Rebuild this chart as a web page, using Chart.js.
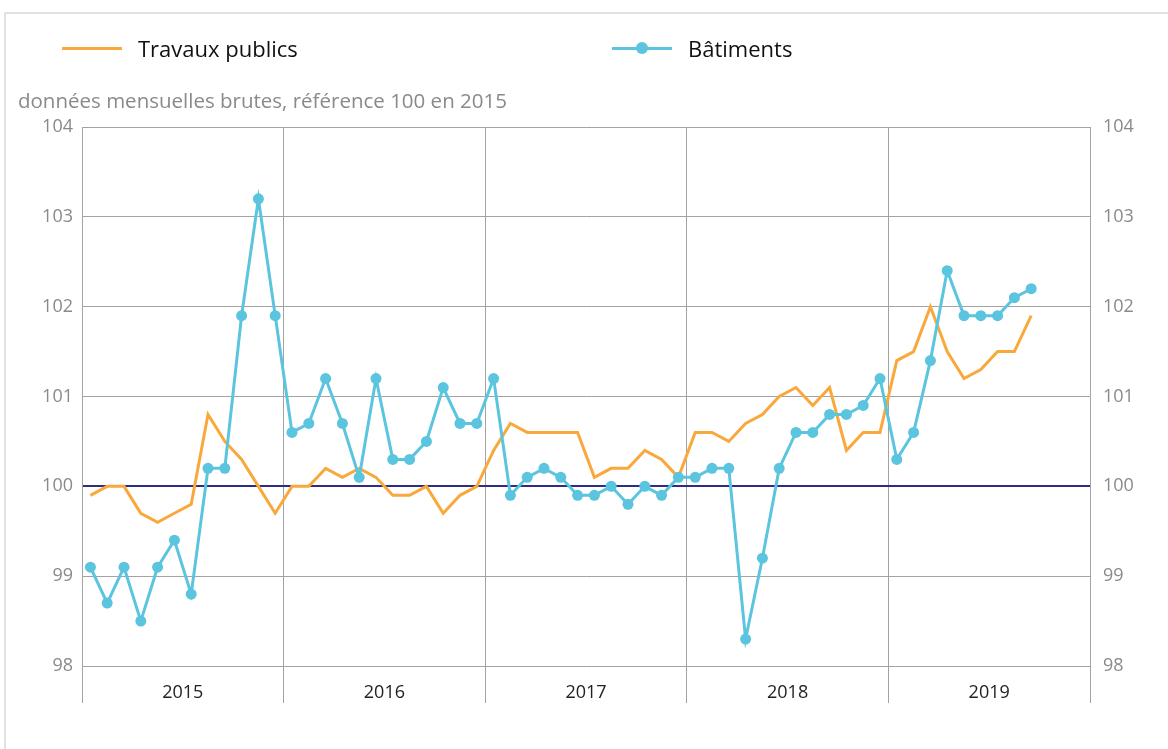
<!DOCTYPE html>
<html><head><meta charset="utf-8">
<script src="https://cdn.jsdelivr.net/npm/chart.js@4/dist/chart.umd.min.js"></script>
<style>
html,body{margin:0;padding:0;background:#fff;}
#wrap{position:relative;width:1168px;height:749px;overflow:hidden;font-family:"Open Sans",sans-serif;}
#frame{position:absolute;left:4px;top:12px;width:1200px;height:800px;border-top:2px solid #e2e2e2;border-left:2px solid #e2e2e2;}
#c{position:absolute;left:0;top:0;}
.leg{position:absolute;top:34px;height:28px;line-height:28px;font-size:22px;color:#111;display:flex;align-items:center;white-space:nowrap;}
.sw{position:relative;width:60px;height:28px;margin-right:16px;}
.sw .ln{position:absolute;left:0;top:12.5px;width:60px;height:3px;}
.sw .dt{position:absolute;left:24px;top:8px;width:12px;height:12px;border-radius:50%;}
#sub{position:absolute;left:18px;top:86px;font-size:20.5px;line-height:28px;color:#8a8a8a;white-space:nowrap;}
</style>
</head><body>
<div id="wrap">
<div id="frame"></div>
<canvas id="c" width="1168" height="749"></canvas>
<div class="leg" style="left:62px"><div class="sw"><div class="ln" style="background:#f9a93b"></div></div>Travaux publics</div>
<div class="leg" style="left:612px"><div class="sw"><div class="ln" style="background:#5bc4df"></div><div class="dt" style="background:#5bc4df"></div></div>Bâtiments</div>
<div id="sub">données mensuelles brutes, référence 100 en 2015</div>
</div>
<script>
const years = ['2015', '2016', '2017', '2018', '2019'];
const monthCodes = ['01','02','03','04','05','06','07','08','09','10','11','12'];
const months = [];
years.forEach(y => monthCodes.forEach(m => months.push(y + '-' + m)));

const travauxPublics = [
  99.9, 100.0, 100.0, 99.7, 99.6, 99.7, 99.8, 100.8, 100.5, 100.3, 100.0, 99.7,
  100.0, 100.0, 100.2, 100.1, 100.2, 100.1, 99.9, 99.9, 100.0, 99.7, 99.9, 100.0,
  100.4, 100.7, 100.6, 100.6, 100.6, 100.6, 100.1, 100.2, 100.2, 100.4, 100.3, 100.1,
  100.6, 100.6, 100.5, 100.7, 100.8, 101.0, 101.1, 100.9, 101.1, 100.4, 100.6, 100.6,
  101.4, 101.5, 102.0, 101.5, 101.2, 101.3, 101.5, 101.5, 101.9
];
const batiments = [
  99.1, 98.7, 99.1, 98.5, 99.1, 99.4, 98.8, 100.2, 100.2, 101.9, 103.2, 101.9,
  100.6, 100.7, 101.2, 100.7, 100.1, 101.2, 100.3, 100.3, 100.5, 101.1, 100.7, 100.7,
  101.2, 99.9, 100.1, 100.2, 100.1, 99.9, 99.9, 100.0, 99.8, 100.0, 99.9, 100.1,
  100.1, 100.2, 100.2, 98.3, 99.2, 100.2, 100.6, 100.6, 100.8, 100.8, 100.9, 101.2,
  100.3, 100.6, 101.4, 102.4, 101.9, 101.9, 101.9, 102.1, 102.2
];
const yMin = 98, yMax = 104, yStep = 1, refValue = 100;

const gridGray = '#a3a3a3';
const tickGray = '#8a8a8a';

new Chart(document.getElementById('c'), {
  type: 'line',
  data: {
    labels: months,
    datasets: [
      { label: 'Travaux publics', data: travauxPublics, borderColor: '#f9a93b', backgroundColor: '#f9a93b',
        borderWidth: 3, pointRadius: 0, tension: 0, order: 1, xAxisID: 'x', yAxisID: 'y' },
      { label: 'Bâtiments', data: batiments, borderColor: '#5bc4df', backgroundColor: '#5bc4df',
        borderWidth: 3, pointRadius: 5.5, pointBorderWidth: 0, pointHoverRadius: 5.5, tension: 0, order: 0, xAxisID: 'x', yAxisID: 'y' }
    ]
  },
  options: {
    responsive: false,
    animation: false,
    layout: { padding: { top: 127, bottom: 43, left: 0, right: 0 } },
    plugins: { legend: { display: false }, tooltip: { enabled: false } },
    scales: {
      x: { type: 'category', labels: months, display: false, offset: true },
      xYear: {
        type: 'category', labels: years, position: 'bottom', offset: true,
        grid: { offset: true, color: gridGray, lineWidth: 1, tickLength: 37, drawTicks: true },
        border: { display: false },
        ticks: { color: '#222', font: { family: 'Open Sans', size: 18 }, padding: -21, maxRotation: 0 },
        afterFit(s) { s.height = 40; }
      },
      y: {
        position: 'left', min: yMin, max: yMax,
        ticks: { stepSize: yStep, color: tickGray, font: { family: 'Open Sans', size: 18 }, padding: 9 },
        grid: {
          color: ctx => ctx.tick && ctx.tick.value === refValue ? '#2e2c85' : gridGray,
          lineWidth: ctx => ctx.tick && ctx.tick.value === refValue ? 2 : 1,
          drawTicks: false
        },
        border: { color: gridGray, width: 1 },
        afterFit(s) { s.width = 82; }
      },
      y1: {
        position: 'right', min: yMin, max: yMax,
        ticks: { stepSize: yStep, color: tickGray, font: { family: 'Open Sans', size: 18 }, padding: 13 },
        grid: { drawOnChartArea: false, drawTicks: false },
        border: { display: false },
        afterFit(s) { s.width = 78; }
      }
    }
  }
});
</script>
</body></html>
